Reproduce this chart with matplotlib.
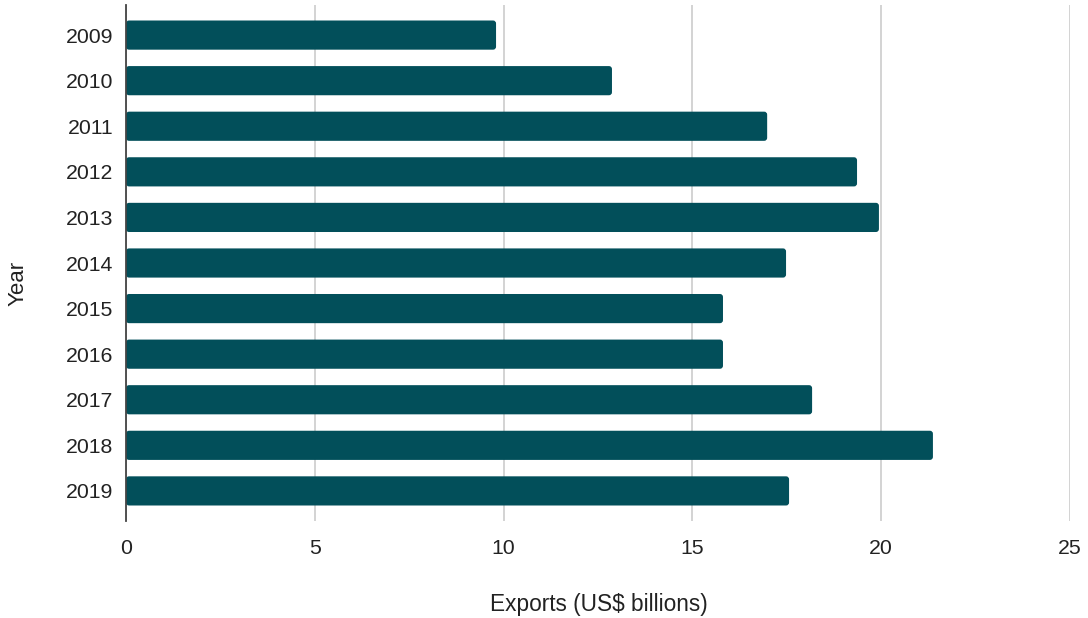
import matplotlib

matplotlib.use("Agg")
import matplotlib.pyplot as plt
from matplotlib.patches import FancyBboxPatch

years = ["2009", "2010", "2011", "2012", "2013", "2014", "2015", "2016", "2017", "2018", "2019"]
exports = [9.8, 12.87, 16.98, 19.36, 19.94, 17.48, 15.81, 15.81, 18.17, 21.37, 17.56]
x_ticks = [0, 5, 10, 15, 20, 25]

bar_color = "#024f5a"
text_color = "#222222"

plt.rcParams["font.family"] = ["Liberation Sans", "DejaVu Sans"]

fig = plt.figure(figsize=(10.88, 6.18), dpi=100)
ax = fig.add_axes([126 / 1088, 1 - 521 / 618, (1070 - 126) / 1088, (521 - 5) / 618])

pos = list(range(len(years)))
bars = ax.barh(pos, exports, height=0.64, color=bar_color)

# swap the plain bars for slightly rounded ones
px_x = (1070 - 126) / 25
px_y = 45.55
r = 3 / px_x
for b in bars:
    b.set_visible(False)
    fb = FancyBboxPatch(
        (b.get_x(), b.get_y()), b.get_width(), b.get_height(),
        boxstyle=f"round,pad=0,rounding_size={r}",
        mutation_aspect=px_x / px_y,
        facecolor=bar_color, edgecolor="none", zorder=3,
    )
    ax.add_patch(fb)

ax.set_xlim(0, 25)
ax.set_ylim(10.66, -0.66)
ax.set_xticks(x_ticks)
ax.set_yticks(pos)
ax.set_yticklabels(years)
ax.tick_params(axis="both", length=0, labelsize=15.3, colors=text_color)
ax.tick_params(axis="x", pad=13)
ax.tick_params(axis="y", pad=9)

ax.grid(axis="x", color="#cccccc", linewidth=1.2, zorder=0)
ax.set_axisbelow(True)
for s in ["top", "right", "bottom"]:
    ax.spines[s].set_visible(False)
ax.spines["left"].set_color("#444444")
ax.spines["left"].set_linewidth(1.3)
ax.spines["left"].set_zorder(4)

fig.text(599 / 1088, 1 - 605 / 618, "Exports (US$ billions)", fontsize=16.3,
         color=text_color, ha="center", va="center")
fig.text(18 / 1088, 1 - 283 / 618, "Year", fontsize=16, color=text_color,
         ha="center", va="center", rotation=90)

fig.savefig("out.png", dpi=100)
